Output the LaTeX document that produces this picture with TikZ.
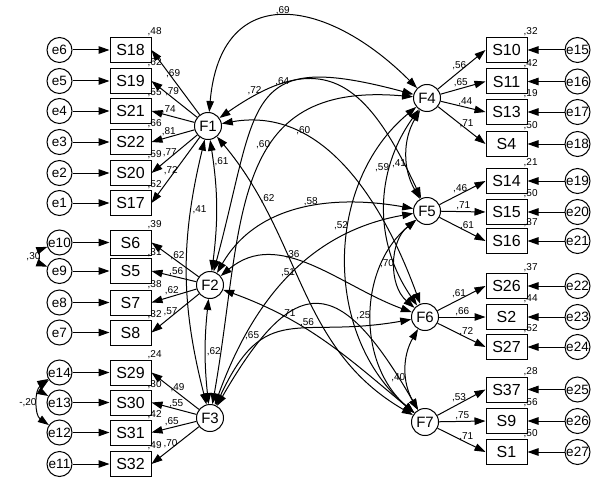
\documentclass[tikz,border=0pt]{standalone}
\usepackage{fontspec}
\setmainfont{Liberation Sans}
\usetikzlibrary{arrows.meta}

\begin{document}
\begin{tikzpicture}[x=1pt,y=1pt,
	err/.style={draw,circle,line width=1pt,minimum size=25pt,inner sep=0pt,font=\fontsize{13.5}{13.5}\selectfont},
	obs/.style={draw,rectangle,line width=1pt,minimum width=41pt,minimum height=25pt,inner sep=0pt,font=\fontsize{16}{16}\selectfont},
	lat/.style={draw,circle,line width=1pt,minimum size=27pt,inner sep=0pt,font=\fontsize{15}{15}\selectfont},
	reg/.style={line width=1pt,-{Triangle[length=11pt,width=7.5pt]}},
	cov/.style={line width=1pt,{Triangle[length=11pt,width=7.5pt]}-{Triangle[length=11pt,width=7.5pt]}},
	val/.style={font=\fontsize{10}{10}\selectfont,inner sep=1pt}]
	\useasboundingbox (0,0) rectangle (591,483);

	% F1 block
	\node[lat] (F1) at (208,357) {F1};
	\node[err] (e6) at (59.5,433) {e6};
	\node[err] (e5) at (59.5,402) {e5};
	\node[err] (e4) at (59.5,372) {e4};
	\node[err] (e3) at (59.5,341) {e3};
	\node[err] (e2) at (59.5,310) {e2};
	\node[err] (e1) at (59.5,280) {e1};
	\node[obs] (S18) at (130.5,433) {S18};
	\node[obs] (S19) at (130.5,402) {S19};
	\node[obs] (S21) at (130.5,372) {S21};
	\node[obs] (S22) at (130.5,341) {S22};
	\node[obs] (S20) at (130.5,310) {S20};
	\node[obs] (S17) at (130.5,280) {S17};

	% F2 block
	\node[lat] (F2) at (210,198) {F2};
	\node[err] (e10) at (59.5,240.5) {e10};
	\node[err] (e9) at (59.5,212) {e9};
	\node[err] (e8) at (59.5,180.5) {e8};
	\node[err] (e7) at (59.5,150.5) {e7};
	\node[obs] (S6) at (130.5,240.5) {S6};
	\node[obs] (S5) at (130.5,212) {S5};
	\node[obs] (S7) at (130.5,180.5) {S7};
	\node[obs] (S8) at (130.5,150.5) {S8};

	% F3 block
	\node[lat] (F3) at (210,65) {F3};
	\node[err] (e14) at (59.5,110.5) {e14};
	\node[err] (e13) at (59.5,80.5) {e13};
	\node[err] (e12) at (59.5,50.5) {e12};
	\node[err] (e11) at (59.5,19) {e11};
	\node[obs] (S29) at (130.5,110.5) {S29};
	\node[obs] (S30) at (130.5,80.5) {S30};
	\node[obs] (S31) at (130.5,50.5) {S31};
	\node[obs] (S32) at (130.5,19) {S32};

	% F4 block
	\node[lat] (F4) at (427,385) {F4};
	\node[obs] (S10) at (506.5,433) {S10};
	\node[obs] (S11) at (506.5,401.5) {S11};
	\node[obs] (S13) at (506.5,371) {S13};
	\node[obs] (S4) at (506.5,339) {S4};
	\node[err] (e15) at (577.5,433) {e15};
	\node[err] (e16) at (577.5,401.5) {e16};
	\node[err] (e17) at (577.5,371) {e17};
	\node[err] (e18) at (577.5,339) {e18};

	% F5 block
	\node[lat] (F5) at (427,272) {F5};
	\node[obs] (S14) at (506.5,302) {S14};
	\node[obs] (S15) at (506.5,271) {S15};
	\node[obs] (S16) at (506.5,242) {S16};
	\node[err] (e19) at (577.5,302) {e19};
	\node[err] (e20) at (577.5,271) {e20};
	\node[err] (e21) at (577.5,242) {e21};

	% F6 block
	\node[lat] (F6) at (425,166) {F6};
	\node[obs] (S26) at (506.5,197) {S26};
	\node[obs] (S2) at (506.5,166) {S2};
	\node[obs] (S27) at (506.5,136) {S27};
	\node[err] (e22) at (577.5,197) {e22};
	\node[err] (e23) at (577.5,166) {e23};
	\node[err] (e24) at (577.5,136) {e24};

	% F7 block
	\node[lat] (F7) at (425,61) {F7};
	\node[obs] (S37) at (506.5,93.5) {S37};
	\node[obs] (S9) at (506.5,62) {S9};
	\node[obs] (S1) at (506.5,31) {S1};
	\node[err] (e25) at (577.5,93.5) {e25};
	\node[err] (e26) at (577.5,62) {e26};
	\node[err] (e27) at (577.5,31) {e27};

	% errors
	\draw[reg] (e6) -- (S18);
	\draw[reg] (e5) -- (S19);
	\draw[reg] (e4) -- (S21);
	\draw[reg] (e3) -- (S22);
	\draw[reg] (e2) -- (S20);
	\draw[reg] (e1) -- (S17);
	\draw[reg] (e10) -- (S6);
	\draw[reg] (e9) -- (S5);
	\draw[reg] (e8) -- (S7);
	\draw[reg] (e7) -- (S8);
	\draw[reg] (e14) -- (S29);
	\draw[reg] (e13) -- (S30);
	\draw[reg] (e12) -- (S31);
	\draw[reg] (e11) -- (S32);
	\draw[reg] (e15) -- (S10);
	\draw[reg] (e16) -- (S11);
	\draw[reg] (e17) -- (S13);
	\draw[reg] (e18) -- (S4);
	\draw[reg] (e19) -- (S14);
	\draw[reg] (e20) -- (S15);
	\draw[reg] (e21) -- (S16);
	\draw[reg] (e22) -- (S26);
	\draw[reg] (e23) -- (S2);
	\draw[reg] (e24) -- (S27);
	\draw[reg] (e25) -- (S37);
	\draw[reg] (e26) -- (S9);
	\draw[reg] (e27) -- (S1);

	% error covariances
	\draw[cov] (e10) to[bend right=70] node[val,left] {,30} (e9);
	\draw[cov] (e14) to[bend right=60] (e13);
	\draw[cov] (e14) to[bend right=55] node[val,left] {-,20} (e12);

	% loadings
	\draw[reg] (F1) -- (S18.east) node[val,pos=0.55,above] {,69};
	\draw[reg] (F1) -- (S19.east) node[val,pos=0.55,above] {,79};
	\draw[reg] (F1) -- (S21.east) node[val,pos=0.6,above] {,74};
	\draw[reg] (F1) -- (S22.east) node[val,pos=0.6,above] {,81};
	\draw[reg] (F1) -- (S20.east) node[val,pos=0.6,above] {,77};
	\draw[reg] (F1) -- (S17.east) node[val,pos=0.6,above] {,72};
	\draw[reg] (F2) -- (S6.east) node[val,pos=0.45,above] {,62};
	\draw[reg] (F2) -- (S5.east) node[val,pos=0.45,above] {,56};
	\draw[reg] (F2) -- (S7.east) node[val,pos=0.55,above] {,62};
	\draw[reg] (F2) -- (S8.east) node[val,pos=0.6,above] {,57};
	\draw[reg] (F3) -- (S29.east) node[val,pos=0.45,above] {,49};
	\draw[reg] (F3) -- (S30.east) node[val,pos=0.45,above] {,55};
	\draw[reg] (F3) -- (S31.east) node[val,pos=0.55,above] {,65};
	\draw[reg] (F3) -- (S32.east) node[val,pos=0.6,above] {,70};
	\draw[reg] (F4) -- (S10.west) node[val,pos=0.45,above] {,56};
	\draw[reg] (F4) -- (S11.west) node[val,pos=0.45,above] {,65};
	\draw[reg] (F4) -- (S13.west) node[val,pos=0.55,above] {,44};
	\draw[reg] (F4) -- (S4.west) node[val,pos=0.6,above] {,71};
	\draw[reg] (F5) -- (S14.west) node[val,pos=0.45,above] {,46};
	\draw[reg] (F5) -- (S15.west) node[val,pos=0.5,above] {,71};
	\draw[reg] (F5) -- (S16.west) node[val,pos=0.6,above] {,61};
	\draw[reg] (F6) -- (S26.west) node[val,pos=0.45,above] {,61};
	\draw[reg] (F6) -- (S2.west) node[val,pos=0.5,above] {,66};
	\draw[reg] (F6) -- (S27.west) node[val,pos=0.6,above] {,72};
	\draw[reg] (F7) -- (S37.west) node[val,pos=0.45,above] {,53};
	\draw[reg] (F7) -- (S9.west) node[val,pos=0.5,above] {,75};
	\draw[reg] (F7) -- (S1.west) node[val,pos=0.6,above] {,71};

	% squared multiple correlations
	\node[val,anchor=south west] at ([xshift=-5pt]S18.north east) {,48};
	\node[val,anchor=south west] at ([xshift=-5pt]S19.north east) {,62};
	\node[val,anchor=south west] at ([xshift=-5pt]S21.north east) {,55};
	\node[val,anchor=south west] at ([xshift=-5pt]S22.north east) {,66};
	\node[val,anchor=south west] at ([xshift=-5pt]S20.north east) {,59};
	\node[val,anchor=south west] at ([xshift=-5pt]S17.north east) {,52};
	\node[val,anchor=south west] at ([xshift=-5pt]S6.north east) {,39};
	\node[val,anchor=south west] at ([xshift=-5pt]S5.north east) {,31};
	\node[val,anchor=south west] at ([xshift=-5pt]S7.north east) {,38};
	\node[val,anchor=south west] at ([xshift=-5pt]S8.north east) {,32};
	\node[val,anchor=south west] at ([xshift=-5pt]S29.north east) {,24};
	\node[val,anchor=south west] at ([xshift=-5pt]S30.north east) {,30};
	\node[val,anchor=south west] at ([xshift=-5pt]S31.north east) {,42};
	\node[val,anchor=south west] at ([xshift=-5pt]S32.north east) {,49};
	\node[val,anchor=south west] at ([xshift=-5pt]S10.north east) {,32};
	\node[val,anchor=south west] at ([xshift=-5pt]S11.north east) {,42};
	\node[val,anchor=south west] at ([xshift=-5pt]S13.north east) {,19};
	\node[val,anchor=south west] at ([xshift=-5pt]S4.north east) {,50};
	\node[val,anchor=south west] at ([xshift=-5pt]S14.north east) {,21};
	\node[val,anchor=south west] at ([xshift=-5pt]S15.north east) {,50};
	\node[val,anchor=south west] at ([xshift=-5pt]S16.north east) {,37};
	\node[val,anchor=south west] at ([xshift=-5pt]S26.north east) {,37};
	\node[val,anchor=south west] at ([xshift=-5pt]S2.north east) {,44};
	\node[val,anchor=south west] at ([xshift=-5pt]S27.north east) {,52};
	\node[val,anchor=south west] at ([xshift=-5pt]S37.north east) {,28};
	\node[val,anchor=south west] at ([xshift=-5pt]S9.north east) {,56};
	\node[val,anchor=south west] at ([xshift=-5pt]S1.north east) {,50};

	% factor covariances
	\draw[cov] (F1) to[out=85,in=135,looseness=1.6] node[val,above] {,69} (F4);
	\draw[cov] (F1) to[out=35,in=115,looseness=1.5] node[val,pos=0.12,above] {,72} (F5);
	\draw[cov] (F1) to[out=10,in=110] node[val,pos=0.3,above] {,60} (F6);
	\draw[cov] (F1) to[out=-50,in=150] node[val,pos=0.2,right] {,62} (F7);
	\draw[cov] (F1) to[bend left=8] node[val,pos=0.15,right] {,61} (F2);
	\draw[cov] (F1) to[bend right=14] node[val,pos=0.25,right] {,41} (F3);
	\draw[cov] (F2) to[bend right=6] node[val,pos=0.5,right] {,62} (F3);
	\draw[cov] (F2) to[out=75,in=165,looseness=1.7] node[val,pos=0.6,above] {,64} (F4);
	\draw[cov] (F2) to[out=60,in=170] node[val,pos=0.55,above] {,58} (F5);
	\draw[cov] (F2) to[out=40,in=160] node[val,pos=0.4,above] {,36} (F6);
	\draw[cov] (F2) to[out=-20,in=140] node[val,pos=0.3,above] {,71} (F7);
	\draw[cov] (F3) to[out=80,in=175,looseness=1.3] node[val,pos=0.6,left] {,60} (F4);
	\draw[cov] (F3) to[out=70,in=190] node[val,pos=0.5,above] {,51} (F5);
	\draw[cov] (F3) to[out=65,in=190,looseness=1.4] node[val,pos=0.6,above] {,56} (F6);
	\draw[cov] (F3) to[out=60,in=120,looseness=2] node[val,pos=0.2,above left] {,65} (F7);
	\draw[cov] (F4) to[bend right=30] node[val,pos=0.6,left] {,41} (F5);
	\draw[cov] (F4) to[bend right=35] node[val,pos=0.3,left] {,59} (F6);
	\draw[cov] (F4) to[bend right=50] node[val,pos=0.4,left] {,52} (F7);
	\draw[cov] (F5) to[bend right=50] node[val,left] {,70} (F6);
	\draw[cov] (F5) to[bend right=50] node[val,left] {,25} (F7);
	\draw[cov] (F6) to[bend right=30] node[val,pos=0.6,left] {,40} (F7);
\end{tikzpicture}
\end{document}
